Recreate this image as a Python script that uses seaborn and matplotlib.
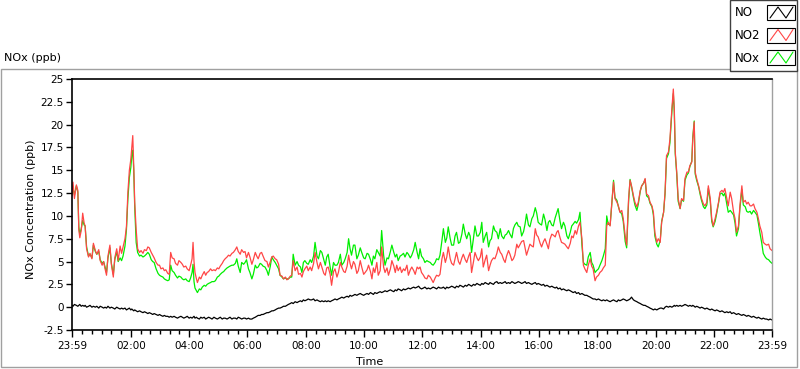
import matplotlib
matplotlib.use("Agg")
import matplotlib.pyplot as plt
from matplotlib.patches import Rectangle
from matplotlib.lines import Line2D
from matplotlib.ticker import FixedLocator, FixedFormatter
import pandas as pd
import seaborn as sns

# ---------------- data (minutes after midnight, ppb) ----------------
minutes = [
    -1, 1, 4, 8, 11, 13, 15, 18, 21, 24,
    26, 29, 33, 36, 40, 43, 47, 50, 54, 57,
    61, 64, 67, 70, 73, 77, 80, 84, 87, 91,
    94, 98, 101, 104, 108, 111, 114, 117, 120, 122,
    124, 126, 128, 131, 134, 138, 141, 145, 148, 152,
    155, 158, 162, 165, 168, 172, 176, 179, 182, 186,
    189, 192, 196, 199, 202, 205, 209, 212, 216, 219,
    223, 226, 229, 233, 236, 240, 243, 246, 248, 250,
    252, 255, 257, 261, 264, 267, 271, 274, 277, 280,
    284, 287, 291, 294, 298, 301, 304, 308, 311, 314,
    318, 321, 324, 328, 331, 335, 338, 341, 345, 348,
    352,
    355, 358, 362, 365, 369, 372, 376, 379, 382, 386,
    389, 392, 396, 400, 403, 407, 410, 413, 417, 420,
    424, 427, 431, 434, 438, 441, 444, 448, 451, 454,
    458, 462, 465, 469, 472, 475, 478, 482, 485, 489,
    492, 496, 499, 503, 506, 510, 513, 517, 520, 523,
    526, 530, 533, 537, 540, 544, 547, 551, 554, 558,
    561, 565, 568, 571, 574, 578, 581, 585, 588, 592,
    595, 599, 602, 606, 609, 613, 616, 619, 622, 626,
    629, 633, 636, 640, 643, 647, 650, 654, 657, 661,
    664, 667, 670, 674, 677, 681, 684, 688, 691, 695,
    698, 702, 705, 709, 712,
    715, 718, 722, 725, 729, 732, 736, 739, 742, 746,
    749, 753, 756, 760, 763, 767, 770, 773, 777, 780,
    784, 787, 790, 794, 797, 801, 804, 808, 811, 815,
    818, 821, 825, 828, 832, 835, 839, 842, 845, 849,
    852, 856, 859, 862, 866, 869, 873, 876, 880, 883,
    887, 890, 893, 897, 900, 904, 907, 910, 914, 917,
    921, 924, 928, 931, 934, 938, 941, 945, 948, 952,
    955, 958, 962, 965, 969, 972, 976, 979, 982, 986,
    989, 993, 996, 999, 1003, 1006, 1010, 1013, 1017, 1020,
    1024, 1027, 1030, 1034, 1037, 1041, 1044, 1048, 1051, 1054,
    1058, 1061, 1065, 1068, 1071,
    1075, 1078, 1082, 1085, 1089, 1092, 1096, 1099, 1102, 1106,
    1109, 1113, 1116, 1120, 1123, 1126, 1130, 1133, 1137, 1140,
    1144, 1147, 1150, 1154, 1157, 1161, 1164, 1168, 1171, 1175,
    1178, 1181, 1185, 1188, 1192, 1195, 1198, 1202, 1205, 1209,
    1212, 1216, 1219, 1222, 1226, 1229, 1233, 1236, 1238, 1240,
    1243, 1246, 1250, 1253, 1257, 1260, 1264, 1267, 1270, 1274,
    1276, 1279, 1281, 1284, 1288, 1291, 1294, 1298, 1301, 1305,
    1308, 1312, 1315, 1318, 1322, 1325, 1329, 1332, 1336, 1339,
    1342, 1346, 1349, 1353, 1356, 1360, 1363, 1366, 1370, 1373,
    1377, 1380, 1384, 1387, 1390, 1394, 1397, 1401, 1404, 1408,
    1411, 1414, 1418, 1421, 1425, 1428, 1432, 1435, 1439,
]

no = [
    0.2, 0.1, 0.3, 0.2, 0.1, 0.2, 0.3, 0.1, 0.2, 0.1,
    0.2, 0.0, 0.1, 0.2, 0.0, 0.1, 0.0, 0.1, -0.1, 0.1,
    0.0, -0.1, 0.0, -0.1, 0.1, -0.1, 0.0, -0.1, -0.2, 0.0,
    -0.1, -0.2, -0.1, -0.2, -0.1, -0.3, -0.2, -0.1, -0.3, -0.2,
    -0.3, -0.4, -0.3, -0.4, -0.5, -0.4, -0.5, -0.6, -0.5, -0.6,
    -0.7, -0.6, -0.7, -0.8, -0.7, -0.8, -0.9, -0.8, -0.9, -1.0,
    -0.9, -1.0, -1.0, -1.1, -1.0, -1.1, -1.0, -1.1, -1.2, -1.1,
    -1.0, -1.1, -1.2, -1.1, -1.0, -1.2, -1.1, -1.2, -1.1, -1.0,
    -1.2, -1.1, -1.2, -1.3, -1.1, -1.2, -1.1, -1.3, -1.2, -1.1,
    -1.2, -1.3, -1.1, -1.2, -1.3, -1.2, -1.1, -1.3, -1.2, -1.2,
    -1.3, -1.2, -1.1, -1.3, -1.2, -1.2, -1.3, -1.1, -1.2, -1.3,
    -1.2,
    -1.2, -1.3, -1.2, -1.3, -1.3, -1.2, -1.1, -1.0, -0.9, -0.9,
    -0.8, -0.8, -0.7, -0.6, -0.6, -0.5, -0.4, -0.4, -0.3, -0.2,
    -0.1, -0.1, 0.0, 0.1, 0.1, 0.2, 0.3, 0.4, 0.5, 0.4,
    0.6, 0.5, 0.6, 0.7, 0.6, 0.8, 0.7, 0.8, 0.9, 0.8,
    0.8, 0.9, 0.7, 0.8, 0.7, 0.6, 0.7, 0.6, 0.7, 0.6,
    0.7, 0.6, 0.7, 0.8, 0.9, 0.8, 0.9, 1.0, 1.1, 1.0,
    1.1, 1.2, 1.1, 1.3, 1.2, 1.3, 1.4, 1.3, 1.4, 1.5,
    1.4, 1.3, 1.4, 1.5, 1.4, 1.6, 1.5, 1.4, 1.6, 1.5,
    1.6, 1.7, 1.6, 1.7, 1.8, 1.7, 1.8, 1.9, 1.8, 1.7,
    1.9, 1.8, 2.0, 1.9, 1.8, 2.0, 1.9, 2.0, 2.1, 2.0,
    2.1, 2.2, 2.1, 2.2, 2.3,
    2.1, 2.0, 2.1, 2.2, 2.0, 2.1, 2.0, 2.1, 2.2, 2.1,
    2.0, 2.2, 2.1, 2.1, 2.2, 2.0, 2.2, 2.1, 2.2, 2.3,
    2.2, 2.1, 2.3, 2.2, 2.4, 2.3, 2.2, 2.4, 2.3, 2.5,
    2.4, 2.3, 2.5, 2.4, 2.6, 2.5, 2.4, 2.6, 2.5, 2.7,
    2.6, 2.5, 2.7, 2.6, 2.5, 2.7, 2.8, 2.6, 2.7, 2.6,
    2.7, 2.8, 2.6, 2.7, 2.6, 2.8, 2.7, 2.6, 2.7, 2.8,
    2.7, 2.6, 2.7, 2.8, 2.6, 2.7, 2.6, 2.5, 2.6, 2.7,
    2.5, 2.6, 2.5, 2.4, 2.5, 2.3, 2.4, 2.3, 2.2, 2.3,
    2.2, 2.1, 2.2, 2.0, 2.1, 1.9, 2.0, 1.9, 1.8, 1.9,
    1.8, 1.7, 1.6, 1.7, 1.5, 1.6, 1.4, 1.5, 1.4, 1.3,
    1.3, 1.2, 1.1, 1.0, 0.9,
    0.9, 0.8, 0.9, 0.8, 0.7, 0.8, 0.7, 0.8, 0.7, 0.6,
    0.7, 0.8, 0.7, 0.6, 0.8, 0.7, 0.8, 0.9, 0.8, 0.7,
    0.8, 0.9, 1.1, 0.8, 0.7, 0.6, 0.5, 0.4, 0.3, 0.2,
    0.2, 0.1, 0.0, -0.1, -0.2, -0.3, -0.2, -0.3, -0.2, -0.1,
    -0.1, -0.2, 0.0, 0.1, 0.0, 0.1, 0.0, 0.1, 0.2, 0.1,
    0.2, 0.1, 0.2, 0.1, 0.2, 0.3, 0.2, 0.1, 0.2, 0.1,
    0.2, 0.1, 0.0, 0.1, 0.0, -0.1, 0.0, -0.1, -0.2, -0.1,
    -0.2, -0.3, -0.2, -0.3, -0.4, -0.3, -0.4, -0.5, -0.4, -0.5,
    -0.6, -0.5, -0.6, -0.5, -0.7, -0.6, -0.7, -0.8, -0.7, -0.8,
    -0.9, -0.8, -0.9, -1.0, -0.9, -1.0, -1.1, -1.0, -1.1, -1.2,
    -1.1, -1.2, -1.3, -1.2, -1.3, -1.3, -1.4, -1.3, -1.4,
]

no2 = [
    12.2, 13.7, 11.9, 13.4, 12.8, 8.5, 7.6, 8.4, 10.3, 9.2,
    8.9, 6.4, 5.5, 5.9, 5.3, 7.0, 6.2, 5.8, 6.3, 5.1,
    4.6, 5.0, 4.2, 3.5, 5.6, 6.8, 4.7, 3.3, 5.4, 6.4,
    5.1, 6.7, 5.9, 6.6, 7.5, 8.8, 12.6, 15.0, 16.2, 17.5,
    18.8, 15.5, 11.5, 8.5, 6.4, 6.0, 6.2, 5.9, 6.3, 6.2,
    6.6, 6.5, 6.0, 5.7, 5.4, 4.9, 4.6, 4.6, 4.2, 4.3,
    4.0, 4.1, 3.7, 3.6, 6.0, 5.4, 5.3, 4.8, 4.6, 5.1,
    4.9, 4.7, 4.4, 4.5, 4.2, 4.0, 4.6, 5.3, 7.1, 5.0,
    3.8, 3.1, 2.7, 3.3, 3.1, 3.5, 3.9, 3.5, 3.8, 3.9,
    4.2, 4.0, 4.1, 4.0, 4.3, 4.2, 4.5, 4.8, 5.1, 5.3,
    5.5, 5.7, 5.6, 5.9, 6.0, 6.3, 6.6, 6.1, 5.8, 6.3,
    6.0,
    6.1, 5.4, 6.0, 5.5, 4.7, 5.2, 6.0, 5.6, 5.3, 5.9,
    6.0, 5.6, 5.1, 5.0, 4.4, 5.0, 5.5, 5.6, 5.3, 5.2,
    4.7, 3.5, 3.4, 3.1, 3.3, 3.0, 3.1, 3.4, 3.5, 5.1,
    4.0, 4.4, 3.6, 3.7, 3.3, 3.9, 4.2, 4.5, 4.0, 4.4,
    4.0, 4.8, 6.0, 4.9, 4.2, 4.9, 4.4, 3.7, 3.5, 4.3,
    4.4, 3.6, 2.4, 3.9, 4.2, 3.3, 3.8, 4.9, 4.4, 3.9,
    3.8, 4.5, 5.7, 4.8, 4.2, 5.0, 4.7, 3.7, 4.0, 5.1,
    4.4, 3.6, 3.8, 4.1, 4.6, 3.9, 3.1, 4.3, 3.8, 4.9,
    3.5, 4.0, 6.6, 4.4, 3.8, 4.3, 3.5, 4.2, 5.1, 4.5,
    3.8, 4.6, 4.0, 4.4, 3.8, 4.2, 4.0, 4.6, 3.5, 4.1,
    4.4, 4.0, 3.6, 4.4, 4.2,
    4.4, 3.8, 3.5, 3.2, 3.1, 3.5, 3.3, 3.0, 2.7, 3.2,
    3.5, 3.4, 3.6, 5.3, 6.0, 4.9, 5.5, 6.6, 5.3, 4.8,
    4.6, 5.3, 6.0, 5.0, 4.7, 5.4, 5.8, 5.2, 4.9, 5.6,
    6.0, 3.8, 5.0, 6.0, 5.4, 5.1, 5.5, 6.4, 4.4, 5.2,
    5.7, 4.0, 4.6, 5.1, 5.4, 5.3, 5.9, 6.6, 6.0, 5.8,
    5.2, 4.9, 5.6, 6.2, 5.8, 5.1, 5.3, 5.7, 6.9, 6.5,
    6.9, 7.2, 7.3, 6.5, 5.7, 6.4, 6.9, 6.7, 6.6, 8.6,
    7.9, 7.7, 7.0, 6.6, 7.2, 7.5, 6.9, 6.4, 7.4, 8.0,
    7.9, 7.7, 8.2, 8.4, 7.6, 7.1, 7.0, 6.9, 6.6, 6.4,
    7.0, 7.8, 7.6, 8.4, 8.0, 8.9, 9.3, 7.5, 4.6, 4.2,
    3.8, 4.6, 5.3, 4.5, 4.2,
    2.9, 3.3, 3.5, 3.8, 4.0, 4.3, 4.6, 8.9, 9.3, 8.9,
    11.1, 13.7, 11.9, 11.5, 11.1, 10.4, 10.6, 9.7, 7.8, 6.8,
    11.9, 13.9, 13.3, 12.2, 11.5, 11.0, 11.5, 12.8, 13.3, 13.6,
    14.1, 12.4, 12.2, 11.5, 11.1, 10.4, 8.2, 7.1, 7.5, 7.1,
    9.3, 10.4, 12.6, 16.6, 17.0, 18.4, 21.7, 23.9, 21.7, 17.0,
    14.8, 11.9, 10.8, 11.9, 11.7, 14.1, 14.8, 14.8, 15.5, 15.9,
    18.4, 20.3, 14.8, 14.1, 13.3, 12.6, 11.9, 11.3, 11.1, 11.5,
    13.3, 11.9, 9.7, 8.9, 9.7, 10.4, 11.5, 12.6, 12.8, 12.6,
    13.0, 11.9, 11.1, 12.6, 11.9, 10.4, 9.7, 8.2, 8.9, 11.1,
    13.3, 11.5, 11.7, 11.3, 11.5, 11.1, 11.1, 11.3, 10.8, 10.4,
    9.7, 8.9, 8.2, 7.1, 6.9, 6.8, 6.9, 6.4, 6.2,
]

nox = [
    12.5, 13.0, 12.3, 13.3, 12.6, 8.8, 8.0, 8.6, 9.5, 9.0,
    8.9, 6.6, 5.6, 5.8, 5.4, 6.8, 6.1, 5.8, 6.1, 5.2,
    4.8, 5.0, 4.4, 3.8, 5.4, 6.5, 4.8, 3.6, 5.2, 6.1,
    5.0, 5.4, 5.1, 5.6, 6.7, 8.5, 11.9, 14.2, 15.3, 16.6,
    17.2, 15.0, 11.0, 7.1, 6.0, 5.6, 5.7, 5.5, 5.6, 5.8,
    6.0, 5.8, 5.2, 5.0, 4.9, 4.2, 3.7, 3.5, 3.4, 3.3,
    3.1, 3.0, 2.9, 3.0, 4.6, 4.0, 3.8, 3.5, 3.2, 3.4,
    3.3, 3.1, 3.0, 3.1, 2.9, 2.8, 3.2, 3.8, 4.7, 2.8,
    2.1, 1.8, 1.6, 2.0, 1.9, 2.2, 2.4, 2.3, 2.5, 2.6,
    2.7, 2.8, 2.8, 2.9, 3.3, 3.4, 3.6, 3.8, 3.9, 4.1,
    4.3, 4.4, 4.5, 4.6, 4.6, 4.8, 5.3, 4.5, 3.8, 4.9,
    4.7,
    4.9, 5.2, 4.2, 3.8, 3.1, 3.6, 4.6, 4.3, 4.4, 4.8,
    4.7, 4.5, 4.4, 4.0, 3.5, 4.5, 5.5, 5.2, 4.9, 4.6,
    4.2, 3.5, 3.3, 3.1, 3.2, 3.1, 3.1, 3.3, 3.3, 5.8,
    4.6, 5.0, 4.6, 4.4, 3.8, 4.9, 5.1, 4.8, 4.7, 5.2,
    4.9, 5.6, 7.1, 5.6, 5.3, 6.2, 6.0, 5.2, 4.6, 5.5,
    5.8, 4.4, 3.5, 4.9, 4.6, 4.6, 4.9, 5.8, 4.6, 4.9,
    5.3, 6.0, 7.5, 6.4, 5.7, 6.8, 6.8, 5.3, 5.7, 6.5,
    6.0, 5.4, 5.3, 5.9, 5.8, 5.2, 4.6, 5.6, 5.3, 6.3,
    6.0, 5.6, 8.4, 5.7, 4.6, 5.4, 5.3, 6.1, 6.8, 6.0,
    5.5, 5.8, 5.1, 5.6, 5.7, 5.9, 5.5, 6.0, 5.8, 5.4,
    5.7, 6.3, 7.1, 6.0, 5.3,
    6.4, 5.6, 5.3, 4.9, 5.1, 5.0, 4.9, 4.7, 4.6, 4.9,
    5.3, 5.2, 5.7, 7.3, 8.6, 7.1, 7.6, 8.8, 7.5, 6.8,
    6.8, 7.8, 8.2, 7.0, 7.1, 8.0, 9.1, 8.0, 7.5, 8.2,
    7.8, 6.0, 7.6, 8.9, 7.8, 7.8, 8.2, 9.3, 7.1, 7.8,
    8.2, 6.6, 7.3, 7.5, 8.9, 8.4, 8.2, 7.5, 8.6, 7.8,
    7.5, 7.9, 8.0, 8.4, 8.0, 7.6, 8.6, 9.0, 9.3, 8.9,
    8.8, 7.8, 8.3, 9.1, 10.2, 9.0, 8.8, 9.7, 10.0, 10.9,
    10.3, 9.3, 9.1, 9.0, 10.2, 9.6, 8.4, 9.3, 9.5, 9.0,
    8.9, 9.8, 10.3, 10.8, 9.4, 8.6, 9.3, 8.9, 7.8, 7.5,
    8.2, 8.9, 9.1, 9.4, 9.2, 9.6, 10.4, 6.8, 4.9, 4.7,
    4.6, 5.5, 6.0, 4.9, 4.6,
    3.8, 4.0, 4.2, 4.6, 5.1, 5.6, 6.4, 10.0, 9.1, 9.0,
    11.0, 13.9, 12.0, 11.7, 11.0, 10.5, 10.2, 9.4, 7.2, 6.5,
    11.6, 14.0, 13.2, 12.0, 11.2, 10.6, 11.3, 12.7, 13.3, 13.6,
    14.0, 12.2, 12.0, 11.4, 11.0, 10.1, 7.8, 6.9, 6.6, 7.3,
    9.4, 10.4, 12.4, 16.3, 16.8, 18.0, 21.4, 23.4, 21.4, 16.8,
    14.6, 11.6, 10.8, 11.8, 11.6, 13.9, 14.5, 14.7, 15.4, 16.0,
    18.6, 20.4, 14.6, 13.9, 13.2, 12.4, 11.7, 11.0, 10.8, 11.2,
    13.0, 11.6, 9.4, 8.8, 9.4, 10.2, 11.4, 12.4, 12.5, 12.2,
    12.5, 11.3, 10.4, 10.6, 10.4, 10.1, 9.2, 7.8, 8.6, 10.8,
    12.9, 11.2, 11.0, 10.5, 10.4, 10.5, 10.2, 10.6, 10.4, 10.1,
    9.2, 8.2, 7.0, 5.9, 5.5, 5.3, 5.2, 5.0, 4.8,
]

series_names = ["NO", "NO2", "NOx"]
series_colors = {"NO": "#000000", "NO2": "#ff4646", "NOx": "#00ee00"}

x_tick_minutes = [-1, 120, 240, 360, 480, 600, 720, 840, 960, 1080, 1200, 1320, 1439]
x_tick_labels = ["23:59", "02:00", "04:00", "06:00", "08:00", "10:00", "12:00",
                 "14:00", "16:00", "18:00", "20:00", "22:00", "23:59"]
y_ticks = [-2.5, 0, 2.5, 5, 7.5, 10, 12.5, 15, 17.5, 20, 22.5, 25]
y_tick_labels = ["-2.5", "0", "2.5", "5", "7.5", "10", "12.5", "15", "17.5", "20", "22.5", "25"]

chart_title = "NOx (ppb)"
y_title = "NOx Concentration (ppb)"
x_title = "Time"

for name, arr in (("no", no), ("no2", no2), ("nox", nox)):
    if len(arr) != len(minutes):
        raise ValueError(f"{name}: {len(arr)} values vs {len(minutes)} times")

df = pd.DataFrame({"Time": minutes, "NO": no, "NO2": no2, "NOx": nox})
long = df.melt(id_vars="Time", var_name="series", value_name="ppb")

# ---------------- styling ----------------
sns.set_theme(style="white")
plt.rcParams["font.family"] = ["DejaVu Sans"]
plt.rcParams["axes.unicode_minus"] = False

W, H = 800, 369
fig = plt.figure(figsize=(W / 100, H / 100), dpi=100)
fig.patch.set_facecolor("white")


def fx(px):
    return px / W


def fy(py):
    return 1 - py / H


# outer frame
fig.add_artist(Rectangle((fx(1), fy(367)), fx(797) - fx(1), fy(69) - fy(367),
                         transform=fig.transFigure, fill=False,
                         edgecolor="#a0a0a0", lw=1))

ax = fig.add_axes([fx(72), fy(330), fx(772) - fx(72), fy(79) - fy(330)])
ax.set_facecolor("white")

sns.lineplot(data=long, x="Time", y="ppb", hue="series",
             hue_order=["NOx", "NO2", "NO"], palette=series_colors,
             estimator=None, sort=False, lw=0.9, legend=False, ax=ax)

ax.set_xlim(minutes[0], minutes[-1])
ax.set_ylim(y_ticks[0], y_ticks[-1])
ax.set_xlabel("")
ax.set_ylabel("")

ax.xaxis.set_major_locator(FixedLocator(x_tick_minutes))
ax.xaxis.set_major_formatter(FixedFormatter(x_tick_labels))
minor = [m for m in range(20, 1440, 20) if m % 120 != 0]
ax.xaxis.set_minor_locator(FixedLocator(minor))
ax.yaxis.set_major_locator(FixedLocator(y_ticks))
ax.yaxis.set_major_formatter(FixedFormatter(y_tick_labels))

ax.tick_params(axis="y", which="major", direction="out", length=4, width=1,
               color="black", pad=2, labelsize=7.5, labelcolor="black", left=True)
ax.tick_params(axis="x", which="major", direction="out", length=5, width=1,
               color="black", pad=3, labelsize=7.5, labelcolor="black", bottom=True)
ax.tick_params(axis="x", which="minor", direction="out", length=3, width=1,
               color="black", bottom=True)

for side in ("left", "top", "bottom"):
    ax.spines[side].set_color("black")
    ax.spines[side].set_linewidth(1.2)
ax.spines["right"].set_color("#a0a0a0")
ax.spines["right"].set_linewidth(1)
ax.grid(False)

# titles
fig.text(fx(4), fy(58), chart_title, ha="left", va="center", fontsize=8, color="black")
fig.text(fx(31), fy(209), y_title, ha="center", va="center", rotation=90,
         fontsize=8, color="black")
fig.text(fx(370), fy(362), x_title, ha="center", va="center", fontsize=8, color="black")

# legend box (top right)
fig.add_artist(Rectangle((fx(730), fy(71)), fx(797) - fx(730), fy(0) - fy(71),
                         transform=fig.transFigure, facecolor="white",
                         edgecolor="#404040", lw=1, zorder=5))
legend_rows = [13, 35.5, 58]
for name, yc in zip(series_names, legend_rows):
    fig.text(fx(735), fy(yc), name, ha="left", va="center", fontsize=8.5,
             color="black", zorder=6)
    top, bot = yc - 8, yc + 7
    fig.add_artist(Rectangle((fx(767), fy(bot)), fx(795) - fx(767), fy(top) - fy(bot),
                             transform=fig.transFigure, facecolor="white",
                             edgecolor="black", lw=0.8, zorder=6))
    zx = [770, 778, 786, 793]
    zy = [bot - 2, top + 2, bot - 2, top + 2]
    fig.add_artist(Line2D([fx(v) for v in zx], [fy(v) for v in zy],
                          transform=fig.transFigure, color=series_colors[name],
                          lw=0.8, zorder=7))

fig.savefig("out.png", dpi=100, facecolor="white")
